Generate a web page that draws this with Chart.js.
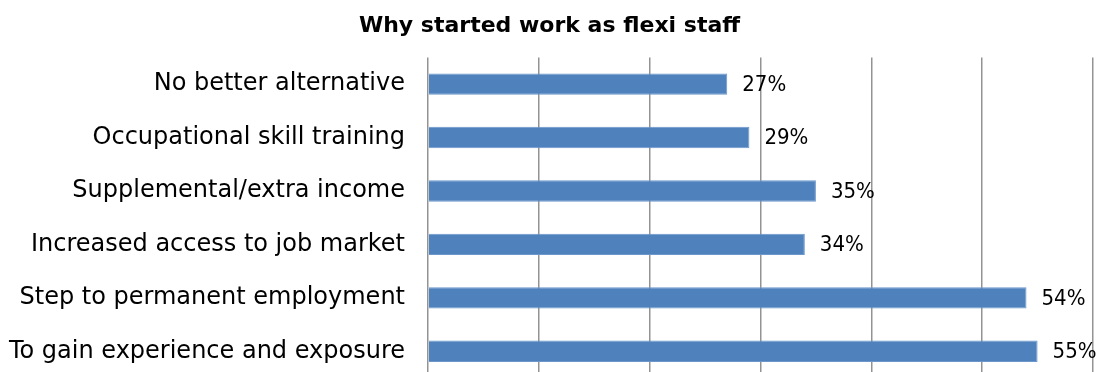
<!DOCTYPE html>
<html lang="en">
<head>
  <meta charset="UTF-8">
  <title>Why started work as flexi staff</title>
  <script src="https://cdn.jsdelivr.net/npm/chart.js"></script>
  <style>
    html, body { margin: 0; padding: 0; overflow: hidden; background: #fff; }
    canvas { display: block; }
  </style>
</head>
<body>
<canvas id="reasonsChart" width="1097" height="380"></canvas>

<script>
  const reasons = [
    'No better alternative',
    'Occupational skill training',
    'Supplemental/extra income',
    'Increased access to job market',
    'Step to permanent employment',
    'To gain experience and exposure'
  ];
  const shares = [27, 29, 35, 34, 54, 55];
  const axisMax = 60;
  const axisStep = 10;

  // writes "NN%" just past the end of each bar
  const valueLabels = {
    id: 'valueLabels',
    afterDatasetsDraw(chart) {
      const ctx = chart.ctx;
      const meta = chart.getDatasetMeta(0);
      ctx.save();
      ctx.font = '22px "DejaVu Sans Condensed", "DejaVu Sans", sans-serif';
      ctx.fillStyle = '#000';
      ctx.textAlign = 'left';
      ctx.textBaseline = 'middle';
      meta.data.forEach((bar, i) => {
        ctx.fillText(shares[i] + '%', bar.x + 15, bar.y + 1);
      });
      ctx.restore();
    }
  };

  new Chart(document.getElementById('reasonsChart'), {
    type: 'bar',
    data: {
      labels: reasons,
      datasets: [{
        data: shares,
        backgroundColor: '#4f81bd',
        borderColor: '#6b97cb',
        borderWidth: 1,
        barPercentage: 0.8,
        categoryPercentage: 0.5
      }]
    },
    options: {
      indexAxis: 'y',
      responsive: false,
      animation: false,
      layout: { padding: { left: 6, right: 4, top: 0, bottom: 2 } },
      plugins: {
        legend: { display: false },
        tooltip: { enabled: false },
        title: {
          display: true,
          text: 'Why started work as flexi staff',
          color: '#000',
          font: { family: '"DejaVu Sans"', size: 22, weight: 'bold' },
          padding: { top: 13, bottom: 18 }
        }
      },
      scales: {
        x: {
          min: 0,
          max: axisMax,
          ticks: { display: false, stepSize: axisStep },
          grid: { color: '#939393', lineWidth: 1.5, drawTicks: false },
          border: { display: false },
          afterFit(scale) { scale.height = 0; }
        },
        y: {
          grid: { display: false, drawTicks: false },
          border: { display: false },
          ticks: {
            color: '#000',
            padding: 23,
            font: { family: '"DejaVu Sans"', size: 24 }
          },
          afterFit(scale) {
            scale.width = 422;
            // the plot runs on past the bottom edge, so no room is kept for the last label
            scale.paddingTop = 0;
            scale.paddingBottom = 0;
          }
        }
      }
    },
    plugins: [valueLabels]
  });
</script>
</body>
</html>
